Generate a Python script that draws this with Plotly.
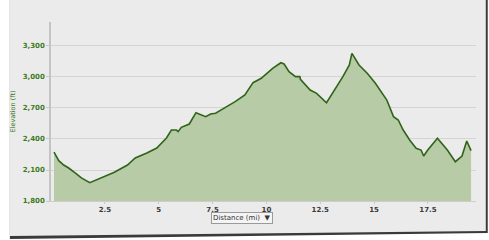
import plotly.graph_objects as go

# Data (distance in miles, elevation in feet)
distance_mi = [0.14, 0.21, 0.36, 0.59, 0.82, 1.12, 1.41, 1.80, 2.03, 2.49, 2.94, 3.55, 3.91, 4.45,
               4.91, 5.36, 5.59, 5.82, 5.90, 6.05, 6.42, 6.73, 7.18, 7.41, 7.64, 7.94, 8.55, 9.00,
               9.38, 9.76, 10.29, 10.67, 10.82, 11.05, 11.35, 11.55, 11.58, 12.03, 12.33, 12.79,
               13.17, 13.55, 13.85, 13.97, 14.30, 14.68, 15.06, 15.36, 15.59, 15.90, 16.12, 16.35,
               16.65, 16.95, 17.18, 17.30, 17.49, 17.94, 18.40, 18.77, 19.08, 19.30, 19.50]
elevation_ft = [2274, 2245, 2190, 2148, 2119, 2071, 2023, 1977, 1996, 2035, 2078, 2148, 2216, 2265,
                2313, 2410, 2487, 2487, 2471, 2513, 2545, 2655, 2616, 2642, 2649, 2687, 2761, 2826,
                2945, 2987, 3084, 3138, 3126, 3051, 3003, 3003, 2978, 2874, 2842, 2751,
                2874, 3003, 3116, 3229, 3116, 3036, 2939, 2842, 2777, 2616, 2584, 2487,
                2390, 2310, 2293, 2235, 2293, 2407, 2293, 2180, 2235, 2381, 2287]

x_tickvals = [2.5, 5, 7.5, 10, 12.5, 15, 17.5]
x_ticktext = ["2.5", "5", "7.5", "10", "12.5", "15", "17.5"]
y_tickvals = [1800, 2100, 2400, 2700, 3000, 3300]
y_ticktext = ["1,800", "2,100", "2,400", "2,700", "3,000", "3,300"]

W, H = 489, 240
L, R, T, B = 42, 13, 22, 39
pw, ph = W - L - R, H - T - B

def px(x):
    return (x - L) / pw

def py(y):
    return (H - B - y) / ph

fig = go.Figure()
fig.add_trace(go.Scatter(
    x=distance_mi, y=elevation_ft, mode="lines",
    line=dict(color="#2f6419", width=1.6),
    fill="tozeroy", fillcolor="#b7cba6",
    hoverinfo="skip", showlegend=False,
))

shapes = [
    # dark shadow frame
    dict(type="path", xref="paper", yref="paper",
         path=f"M {px(0)} {py(0)} L {px(488)} {py(0)} L {px(488)} {py(233)} L {px(0)} {py(239)} Z",
         fillcolor="#3a3a3a", line=dict(width=0), layer="below"),
    # gray panel
    dict(type="path", xref="paper", yref="paper",
         path=f"M {px(0)} {py(0)} L {px(486)} {py(0)} L {px(486)} {py(231)} L {px(0)} {py(236)} Z",
         fillcolor="#ebebeb", line=dict(width=0), layer="below"),
]

fig.update_layout(
    width=W, height=H,
    margin=dict(l=L, r=R, t=T, b=B),
    paper_bgcolor="white", plot_bgcolor="rgba(0,0,0,0)",
    shapes=shapes,
    xaxis=dict(range=[0, 19.73], tickvals=x_tickvals, ticktext=x_ticktext,
               showgrid=False, zeroline=False, showline=True, linecolor="#d0cccc",
               ticks="outside", ticklen=2, tickcolor="#c8c8c8",
               tickfont=dict(family="DejaVu Sans", size=7, color="#3a3a3a", weight="bold")),
    yaxis=dict(range=[1800, 3532], tickvals=y_tickvals, ticktext=y_ticktext,
               showgrid=True, gridcolor="#d8d2d2", gridwidth=1, zeroline=False,
               showline=True, linecolor="#c4c4c4", linewidth=1.5,
               ticks="outside", ticklen=3, tickcolor="#c8c8c8",
               tickfont=dict(family="DejaVu Sans", size=7, color="#3e7a1e", weight="bold"),
               title=dict(text="Elevation (ft)", standoff=6,
                          font=dict(family="DejaVu Sans", size=6.5, color="#3e7a1e"))),
    annotations=[dict(
        text="Distance (mi)  ▼", xref="paper", yref="paper",
        x=px(237), y=py(217.5), xanchor="center", yanchor="middle", showarrow=False,
        font=dict(family="DejaVu Sans", size=7, color="#333333"),
        bgcolor="#f4f4f4", bordercolor="#9a9a9a", borderwidth=1, borderpad=1,
    )],
)

fig.write_html("out.html")
